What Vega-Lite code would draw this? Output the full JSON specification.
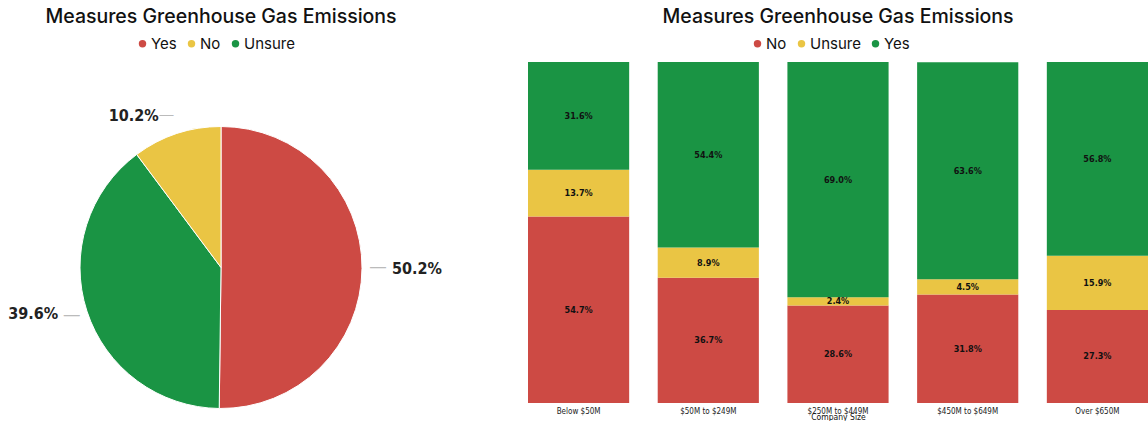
{
  "$schema": "https://vega.github.io/schema/vega-lite/v6.json",
  "padding": {"left": 0, "right": 0, "top": 6, "bottom": 0},
  "spacing": 86,
  "config": {
    "view": {"stroke": null},
    "title": {"font": "Inter", "fontSize": 19.5, "fontWeight": 500, "color": "#111111", "anchor": "middle", "offset": 9},
    "legend": {"orient": "none", "direction": "horizontal", "symbolType": "circle", "symbolSize": 55, "labelFont": "Inter", "labelFontSize": 15, "labelColor": "#111111", "columnPadding": 7, "labelOffset": 1, "symbolStrokeWidth": 0}
  },
  "hconcat": [
    {
      "title": "Measures Greenhouse Gas Emissions",
      "width": 442,
      "height": 341,
      "data": {"values": [
        {"answer": "Yes", "pct": 0.502, "ord": 1},
        {"answer": "Unsure", "pct": 0.396, "ord": 2},
        {"answer": "No", "pct": 0.102, "ord": 3}
      ]},
      "encoding": {
        "theta": {"field": "pct", "type": "quantitative", "stack": true},
        "order": {"field": "ord", "type": "quantitative"}
      },
      "layer": [
        {
          "mark": {"type": "arc", "outerRadius": 141, "stroke": "#ffffff", "strokeWidth": 1, "yOffset": 35},
          "encoding": {
            "color": {"field": "answer", "type": "nominal",
              "scale": {"domain": ["Yes", "No", "Unsure"], "range": ["#CD4A44", "#EAC544", "#1A9444"]},
              "legend": {"title": null, "legendX": 135, "legendY": -26}}
          }
        },
        {
          "mark": {"type": "text", "radius": 157, "color": "#bbbbbb", "fontSize": 16, "yOffset": 34},
          "encoding": {"text": {"condition": {"test": "datum.answer !== 'No'", "value": "—"}, "value": ""}}
        },
        {
          "mark": {"type": "text", "radius": 160, "dx": -4, "color": "#bbbbbb", "fontSize": 14, "yOffset": 34},
          "encoding": {"text": {"condition": {"test": "datum.answer === 'No'", "value": "—"}, "value": ""}}
        },
        {
          "mark": {"type": "text", "radius": 196, "font": "DejaVu Sans Condensed", "fontWeight": "bold", "fontSize": 16, "color": "#222222", "yOffset": 35},
          "encoding": {"text": {"condition": {"test": "datum.answer === 'Yes'", "field": "pct", "type": "quantitative", "format": ".1%"}, "value": ""}}
        },
        {
          "mark": {"type": "text", "radius": 190, "dx": -7, "font": "DejaVu Sans Condensed", "fontWeight": "bold", "fontSize": 16, "color": "#222222", "yOffset": 23},
          "encoding": {"text": {"condition": {"test": "datum.answer === 'Unsure'", "field": "pct", "type": "quantitative", "format": ".1%"}, "value": ""}}
        },
        {
          "mark": {"type": "text", "radius": 160, "dx": -37, "font": "DejaVu Sans Condensed", "fontWeight": "bold", "fontSize": 16, "color": "#222222", "yOffset": 35},
          "encoding": {"text": {"condition": {"test": "datum.answer === 'No'", "field": "pct", "type": "quantitative", "format": ".1%"}, "value": ""}}
        }
      ]
    },
    {
      "title": "Measures Greenhouse Gas Emissions",
      "width": 620,
      "height": 341,
      "data": {"values": [
        {"size": "Below $50M", "answer": "No", "pct": 0.547},
        {"size": "Below $50M", "answer": "Unsure", "pct": 0.137},
        {"size": "Below $50M", "answer": "Yes", "pct": 0.316},
        {"size": "$50M to $249M", "answer": "No", "pct": 0.367},
        {"size": "$50M to $249M", "answer": "Unsure", "pct": 0.089},
        {"size": "$50M to $249M", "answer": "Yes", "pct": 0.544},
        {"size": "$250M to $449M", "answer": "No", "pct": 0.286},
        {"size": "$250M to $449M", "answer": "Unsure", "pct": 0.024},
        {"size": "$250M to $449M", "answer": "Yes", "pct": 0.690},
        {"size": "$450M to $649M", "answer": "No", "pct": 0.318},
        {"size": "$450M to $649M", "answer": "Unsure", "pct": 0.045},
        {"size": "$450M to $649M", "answer": "Yes", "pct": 0.636},
        {"size": "Over $650M", "answer": "No", "pct": 0.273},
        {"size": "Over $650M", "answer": "Unsure", "pct": 0.159},
        {"size": "Over $650M", "answer": "Yes", "pct": 0.568}
      ]},
      "encoding": {
        "x": {"field": "size", "type": "nominal",
          "sort": ["Below $50M", "$50M to $249M", "$250M to $449M", "$450M to $649M", "Over $650M"],
          "scale": {"paddingInner": 0.22, "paddingOuter": 0},
          "title": "Company Size",
          "axis": {"labelAngle": 0, "ticks": false, "domain": false, "labelFont": "DejaVu Sans Condensed", "labelFontSize": 8, "labelColor": "#222222", "labelPadding": 4, "titleFont": "DejaVu Sans Condensed", "titleFontSize": 8.5, "titleFontWeight": "normal", "titleColor": "#111111", "titlePadding": -3}}
      },
      "layer": [
        {
          "mark": {"type": "bar"},
          "encoding": {
            "y": {"field": "pct", "type": "quantitative", "stack": "zero", "scale": {"domain": [0, 1]}, "axis": null},
            "color": {"field": "answer", "type": "nominal",
              "scale": {"domain": ["No", "Unsure", "Yes"], "range": ["#CD4A44", "#EAC544", "#1A9444"]},
              "legend": {"title": null, "legendX": 222, "legendY": -26}},
            "order": {"field": "answer", "type": "nominal", "sort": "ascending"}
          }
        },
        {
          "transform": [
            {"stack": "pct", "groupby": ["size"], "sort": [{"field": "answer", "order": "ascending"}], "as": ["y0", "y1"]},
            {"fold": ["y0", "y1"], "as": ["edge", "pos"]},
            {"aggregate": [{"op": "mean", "field": "pos", "as": "mid"}], "groupby": ["size", "answer", "pct"]}
          ],
          "mark": {"type": "text", "font": "DejaVu Sans Condensed", "fontWeight": "bold", "fontSize": 9, "color": "#111111"},
          "encoding": {
            "y": {"field": "mid", "type": "quantitative", "scale": {"domain": [0, 1]}, "axis": null},
            "text": {"field": "pct", "type": "quantitative", "format": ".1%"}
          }
        }
      ]
    }
  ],
  "resolve": {"scale": {"color": "independent"}, "legend": {"color": "independent"}}
}
